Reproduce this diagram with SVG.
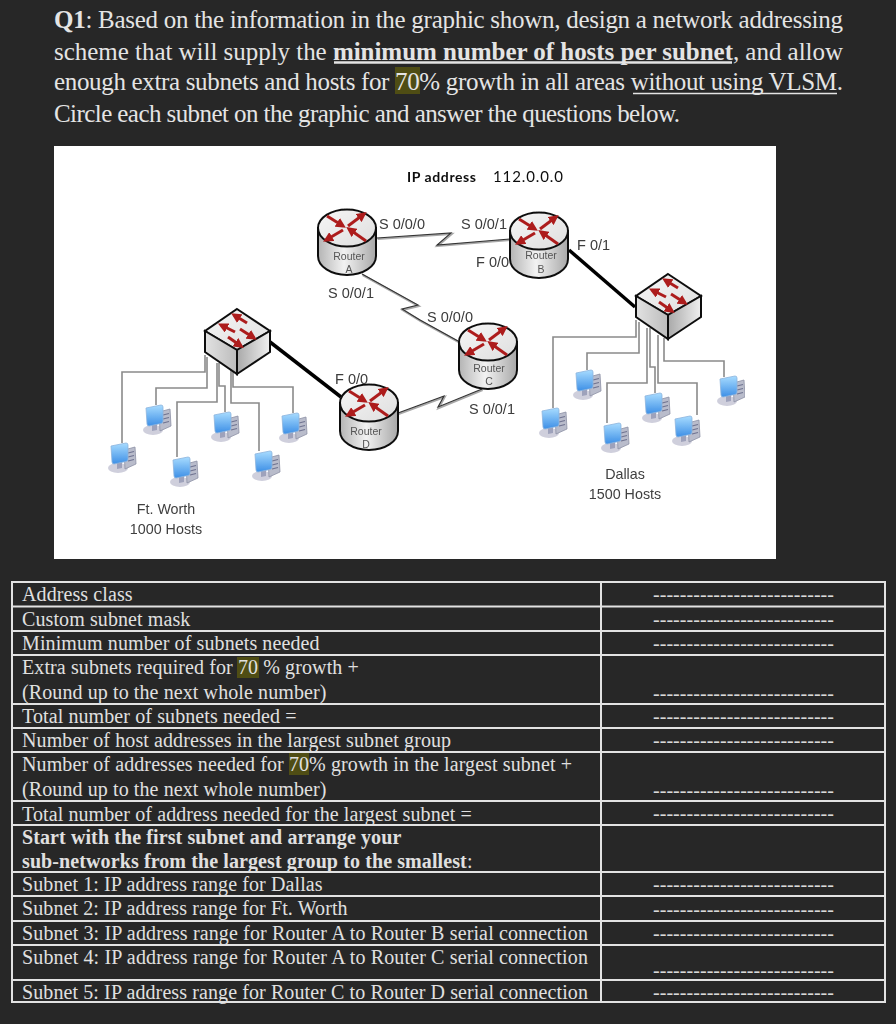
<svg xmlns="http://www.w3.org/2000/svg" xmlns:xlink="http://www.w3.org/1999/xlink" width="896" height="1024" viewBox="0 0 896 1024">
<style>
.h{font-family:"Liberation Serif","Times New Roman",serif;font-size:25px;fill:#e4e4e4}
.t{font-family:"Liberation Serif","Times New Roman",serif;font-size:20px;fill:#e0e0e0;letter-spacing:.1px}
.d{font-family:"Liberation Serif","Times New Roman",serif;font-size:20px;fill:#d8d8d8}
.b{font-weight:bold}
.hl{fill:#4f4d14}
.ul{stroke:#e4e4e4;fill:none}
.rule{stroke:#e2e2e2;stroke-width:2;fill:none}
.lbl{font-family:"Liberation Sans",Arial,sans-serif;font-size:14.5px;fill:#3c3c3c}
.cap{font-family:"Liberation Sans",Arial,sans-serif;font-size:14.3px;fill:#3f3f3f;text-anchor:middle}
.rt{font-family:"Liberation Sans",Arial,sans-serif;font-size:10.5px;fill:#555;text-anchor:middle}
.ip{font-family:Lato,"Liberation Sans",sans-serif;font-size:14px;fill:#111}
.wire{fill:none;stroke:#8a8a8a;stroke-width:1.6}
.thick{fill:none;stroke:#000;stroke-width:3.5}
.ser1{fill:none;stroke:#a8a8a8;stroke-width:2.2;transform:translate(.6px,1px)}
.ser2{fill:none;stroke:#333;stroke-width:1.1}
.ra{stroke:#ad1f1f;stroke-width:3;fill:none;marker-end:url(#ah)}
</style>
<defs>
<filter id="soft" x="0" y="0" width="1" height="1"><feGaussianBlur stdDeviation="0.45"/></filter>
<linearGradient id="cyl" x1="0" x2="1" y1="0" y2="0"><stop offset="0" stop-color="#b4b4b4"/><stop offset=".45" stop-color="#f2f2f2"/><stop offset="1" stop-color="#a8a8a8"/></linearGradient>
<linearGradient id="top" x1="0" x2="1" y1="0" y2="1"><stop offset="0" stop-color="#f6f6f6"/><stop offset="1" stop-color="#dedede"/></linearGradient>
<linearGradient id="lf" x1="0" x2="1" y1="0" y2="0"><stop offset="0" stop-color="#e2e2e2"/><stop offset="1" stop-color="#bcbcbc"/></linearGradient>
<linearGradient id="rf" x1="0" x2="1" y1="0" y2="0"><stop offset="0" stop-color="#a9a9a9"/><stop offset="1" stop-color="#f0f0f0"/></linearGradient>
<linearGradient id="scr" x1="0" x2="0" y1="0" y2="1"><stop offset="0" stop-color="#a8dcff"/><stop offset="1" stop-color="#3d8fe6"/></linearGradient>
<marker id="ah" viewBox="0 0 6 6" refX="4" refY="3" markerWidth="3.400" markerHeight="3.400" orient="auto"><path d="M0,0L6,3L0,6z" fill="#ad1f1f"/></marker>
<g id="router">
<path d="M1,19V47A29,19 0 0 0 59,47V19z" fill="url(#cyl)" stroke="#111" stroke-width="2"/>
<ellipse cx="30" cy="19" rx="29" ry="18.500" fill="url(#top)" stroke="#111" stroke-width="2"/>
<path class="ra" d="M10,7L26,17"/><path class="ra" d="M31,17L47,5"/><path class="ra" d="M26,21L9,31"/><path class="ra" d="M49,32L32,20"/>
</g>
<g id="switch">
<path d="M32,0L65,22L32,41L0,22z" fill="url(#top)" stroke="#111" stroke-width="2"/>
<path d="M0,22L32,41V65L0,43z" fill="url(#lf)" stroke="#111" stroke-width="2"/>
<path d="M32,41L65,22V43L32,65z" fill="url(#rf)" stroke="#111" stroke-width="2"/>
<path class="ra" d="M42,14L29,6"/><path class="ra" d="M30,23L16,16"/><path class="ra" d="M35,20L49,29"/><path class="ra" d="M23,28L36,37"/>
</g>
<g id="pc">
<ellipse cx="10" cy="25" rx="10" ry="5" fill="#cfcfdc"/>
<path d="M16,7L27,4L28,21L17,26z" fill="#b9bccb" stroke="#8d90a5" stroke-width=".8"/>
<path d="M20,10L26,8.500M20,14L26,12.500M20,18L26,16.500" stroke="#6f7390" stroke-width="1.200"/>
<path d="M9,20L14,19L14,25L9,26z" fill="#9ea2bb"/>
<path d="M3,3L18,0Q20,0 20,2L20,16Q20,18 18,18.500L6,21Q4,21 4,19z" fill="url(#scr)" stroke="#8db4dd" stroke-width=".8"/>
</g>
</defs>
<rect id="page" width="896" height="1024" fill="#272727"/>
<g id="question">
<rect class="hl" x="395" y="67" width="25" height="27"/>
<text class="h" x="54" y="28" textLength="789" lengthAdjust="spacing"><tspan class="b">Q1</tspan>: Based on the information in the graphic shown, design a network addressing</text>
<text class="h" x="54" y="60" textLength="789" lengthAdjust="spacing">scheme that will supply the <tspan class="b">minimum number of hosts per subnet</tspan>, and allow</text>
<text class="h" x="54" y="90" textLength="789" lengthAdjust="spacing">enough extra subnets and hosts for 70% growth in all areas without using VLSM.</text>
<text class="h" x="54" y="122" textLength="626" lengthAdjust="spacing">Circle each subnet on the graphic and answer the questions below.</text>
<path class="ul" stroke-width="2.400" d="M334,62.500H732"/>
<path class="ul" stroke-width="1.500" d="M633,93.500H837"/>
</g>
<rect id="graphic" x="54" y="146" width="722" height="413" fill="#fff"/>
<g id="network" filter="url(#soft)">
<g id="connectors">
<path class="wire" d="M122,443V372H205V355"/><path class="wire" d="M156,405V388H207V357"/><path class="wire" d="M177,457V402H217V363"/><path class="wire" d="M225,412V386H219V363"/><path class="wire" d="M259,451V403H231V368"/><path class="wire" d="M293,413V387H233V370"/>
<path class="wire" d="M553,408V337H636V320"/><path class="wire" d="M587,370V353H639V322"/><path class="wire" d="M607,423V383H647V328"/><path class="wire" d="M655,393V367H650V328"/><path class="wire" d="M697,415V383H658V335"/><path class="wire" d="M724,377V361H664V338"/>
<path class="thick" d="M270,342L341,397"/><path class="thick" d="M569,250L635,307"/>
<path class="ser1" d="M377,238L451,233L437,245L510,239"/><path class="ser2" d="M377,238L451,233L437,245L510,239"/>
<path class="ser1" d="M362,274L418,305L402,309L420,320L458,341"/><path class="ser2" d="M362,274L418,305L402,309L420,320L458,341"/>
<path class="ser1" d="M398,413L444,396L438,407L482,389"/><path class="ser2" d="M398,413L444,396L438,407L482,389"/>
</g>
<g id="router-a"><use href="#router" x="317" y="209"/><text class="rt" x="349" y="260">Router</text><text class="rt" x="349" y="273">A</text></g>
<g id="router-b"><use href="#router" x="509" y="212"/><text class="rt" x="541" y="259">Router</text><text class="rt" x="541" y="273">B</text></g>
<g id="router-c"><use href="#router" x="458" y="323"/><text class="rt" x="489" y="372">Router</text><text class="rt" x="489" y="385">C</text></g>
<g id="router-d"><use href="#router" x="339" y="384"/><text class="rt" x="366" y="435">Router</text><text class="rt" x="366" y="448">D</text></g>
<g id="switch-ftworth"><use href="#switch" x="205" y="309"/></g>
<g id="switch-dallas"><use href="#switch" x="636" y="274"/></g>
<g id="pc-f1"><use href="#pc" x="108" y="443"/></g>
<g id="pc-f2"><use href="#pc" x="143" y="405"/></g>
<g id="pc-f3"><use href="#pc" x="170" y="457"/></g>
<g id="pc-f4"><use href="#pc" x="211" y="412"/></g>
<g id="pc-f5"><use href="#pc" x="252" y="451"/></g>
<g id="pc-f6"><use href="#pc" x="279" y="413"/></g>
<g id="pc-d1"><use href="#pc" x="539" y="408"/></g>
<g id="pc-d2"><use href="#pc" x="573" y="370"/></g>
<g id="pc-d3"><use href="#pc" x="601" y="423"/></g>
<g id="pc-d4"><use href="#pc" x="642" y="393"/></g>
<g id="pc-d5"><use href="#pc" x="672" y="416"/></g>
<g id="pc-d6"><use href="#pc" x="717" y="376"/></g>
<g id="labels">
<text class="ip" x="407" y="182" textLength="69" style="font-weight:bold">IP address</text>
<text class="ip" x="493" y="182" textLength="70" style="font-size:15px">112.0.0.0</text>
<text class="lbl" x="379" y="229">S 0/0/0</text><text class="lbl" x="461" y="229">S 0/0/1</text>
<text class="lbl" x="476" y="267">F 0/0</text><text class="lbl" x="577" y="250">F 0/1</text>
<text class="lbl" x="328" y="298">S 0/0/1</text><text class="lbl" x="427" y="322">S 0/0/0</text>
<text class="lbl" x="335" y="384">F 0/0</text><text class="lbl" x="469" y="414">S 0/0/1</text>
<text class="cap" x="166" y="514">Ft. Worth</text><text class="cap" x="166" y="534">1000 Hosts</text>
<text class="cap" x="625" y="479">Dallas</text><text class="cap" x="625" y="499">1500 Hosts</text>
</g>
</g>
<g id="table">
<rect class="hl" x="237" y="657" width="22" height="21"/>
<rect class="hl" x="289" y="753" width="20" height="22"/>
<path class="rule" d="M12,582H885M12,606.500H885M12,631H885M12,655H885M12,704H885M12,728H885M12,752H885M12,801H885M12,825H885M12,872H885M12,896H885M12,921H885M12,945H885M12,980H885M12,1002H885M12,581V1003M885,581V1003M601,581V1003"/>
<text class="t" x="22" y="601">Address class</text>
<text class="t" x="22" y="626">Custom subnet mask</text>
<text class="t" x="22" y="650">Minimum number of subnets needed</text>
<text class="t" x="22" y="674">Extra subnets required for 70 % growth  +</text>
<text class="t" x="22" y="699">(Round up to the next whole number)</text>
<text class="t" x="22" y="722.500">Total number of subnets needed =</text>
<text class="t" x="22" y="747">Number of host addresses in the largest subnet group</text>
<text class="t" x="22" y="771">Number of addresses needed for 70% growth in the largest subnet +</text>
<text class="t" x="22" y="796">(Round up to the next whole number)</text>
<text class="t" x="22" y="821">Total number of address needed for the largest subnet =</text>
<text class="t b" x="22" y="844">Start with the first subnet and arrange your</text>
<text class="t" x="22" y="868"><tspan class="b">sub-networks from the largest group to the smallest</tspan>:</text>
<text class="t" x="22" y="891">Subnet 1: IP address range for Dallas</text>
<text class="t" x="22" y="915">Subnet 2: IP address range for Ft. Worth</text>
<text class="t" x="22" y="940" textLength="566">Subnet 3: IP address range for Router A to Router B serial connection</text>
<text class="t" x="22" y="964" textLength="566">Subnet 4: IP address range for Router A to Router C serial connection</text>
<text class="t" x="22" y="999" textLength="566">Subnet 5: IP address range for Router C to Router D serial connection</text>
<text class="d" x="653" y="601" textLength="181">---------------------------</text>
<text class="d" x="653" y="626" textLength="181">---------------------------</text>
<text class="d" x="653" y="650" textLength="181">---------------------------</text>
<text class="d" x="653" y="700" textLength="181">---------------------------</text>
<text class="d" x="653" y="723" textLength="181">---------------------------</text>
<text class="d" x="653" y="747" textLength="181">---------------------------</text>
<text class="d" x="653" y="797" textLength="181">---------------------------</text>
<text class="d" x="653" y="820" textLength="181">---------------------------</text>
<text class="d" x="653" y="891" textLength="181">---------------------------</text>
<text class="d" x="653" y="916" textLength="181">---------------------------</text>
<text class="d" x="653" y="940" textLength="181">---------------------------</text>
<text class="d" x="653" y="977" textLength="181">---------------------------</text>
<text class="d" x="653" y="999" textLength="181">---------------------------</text>
</g>
</svg>
